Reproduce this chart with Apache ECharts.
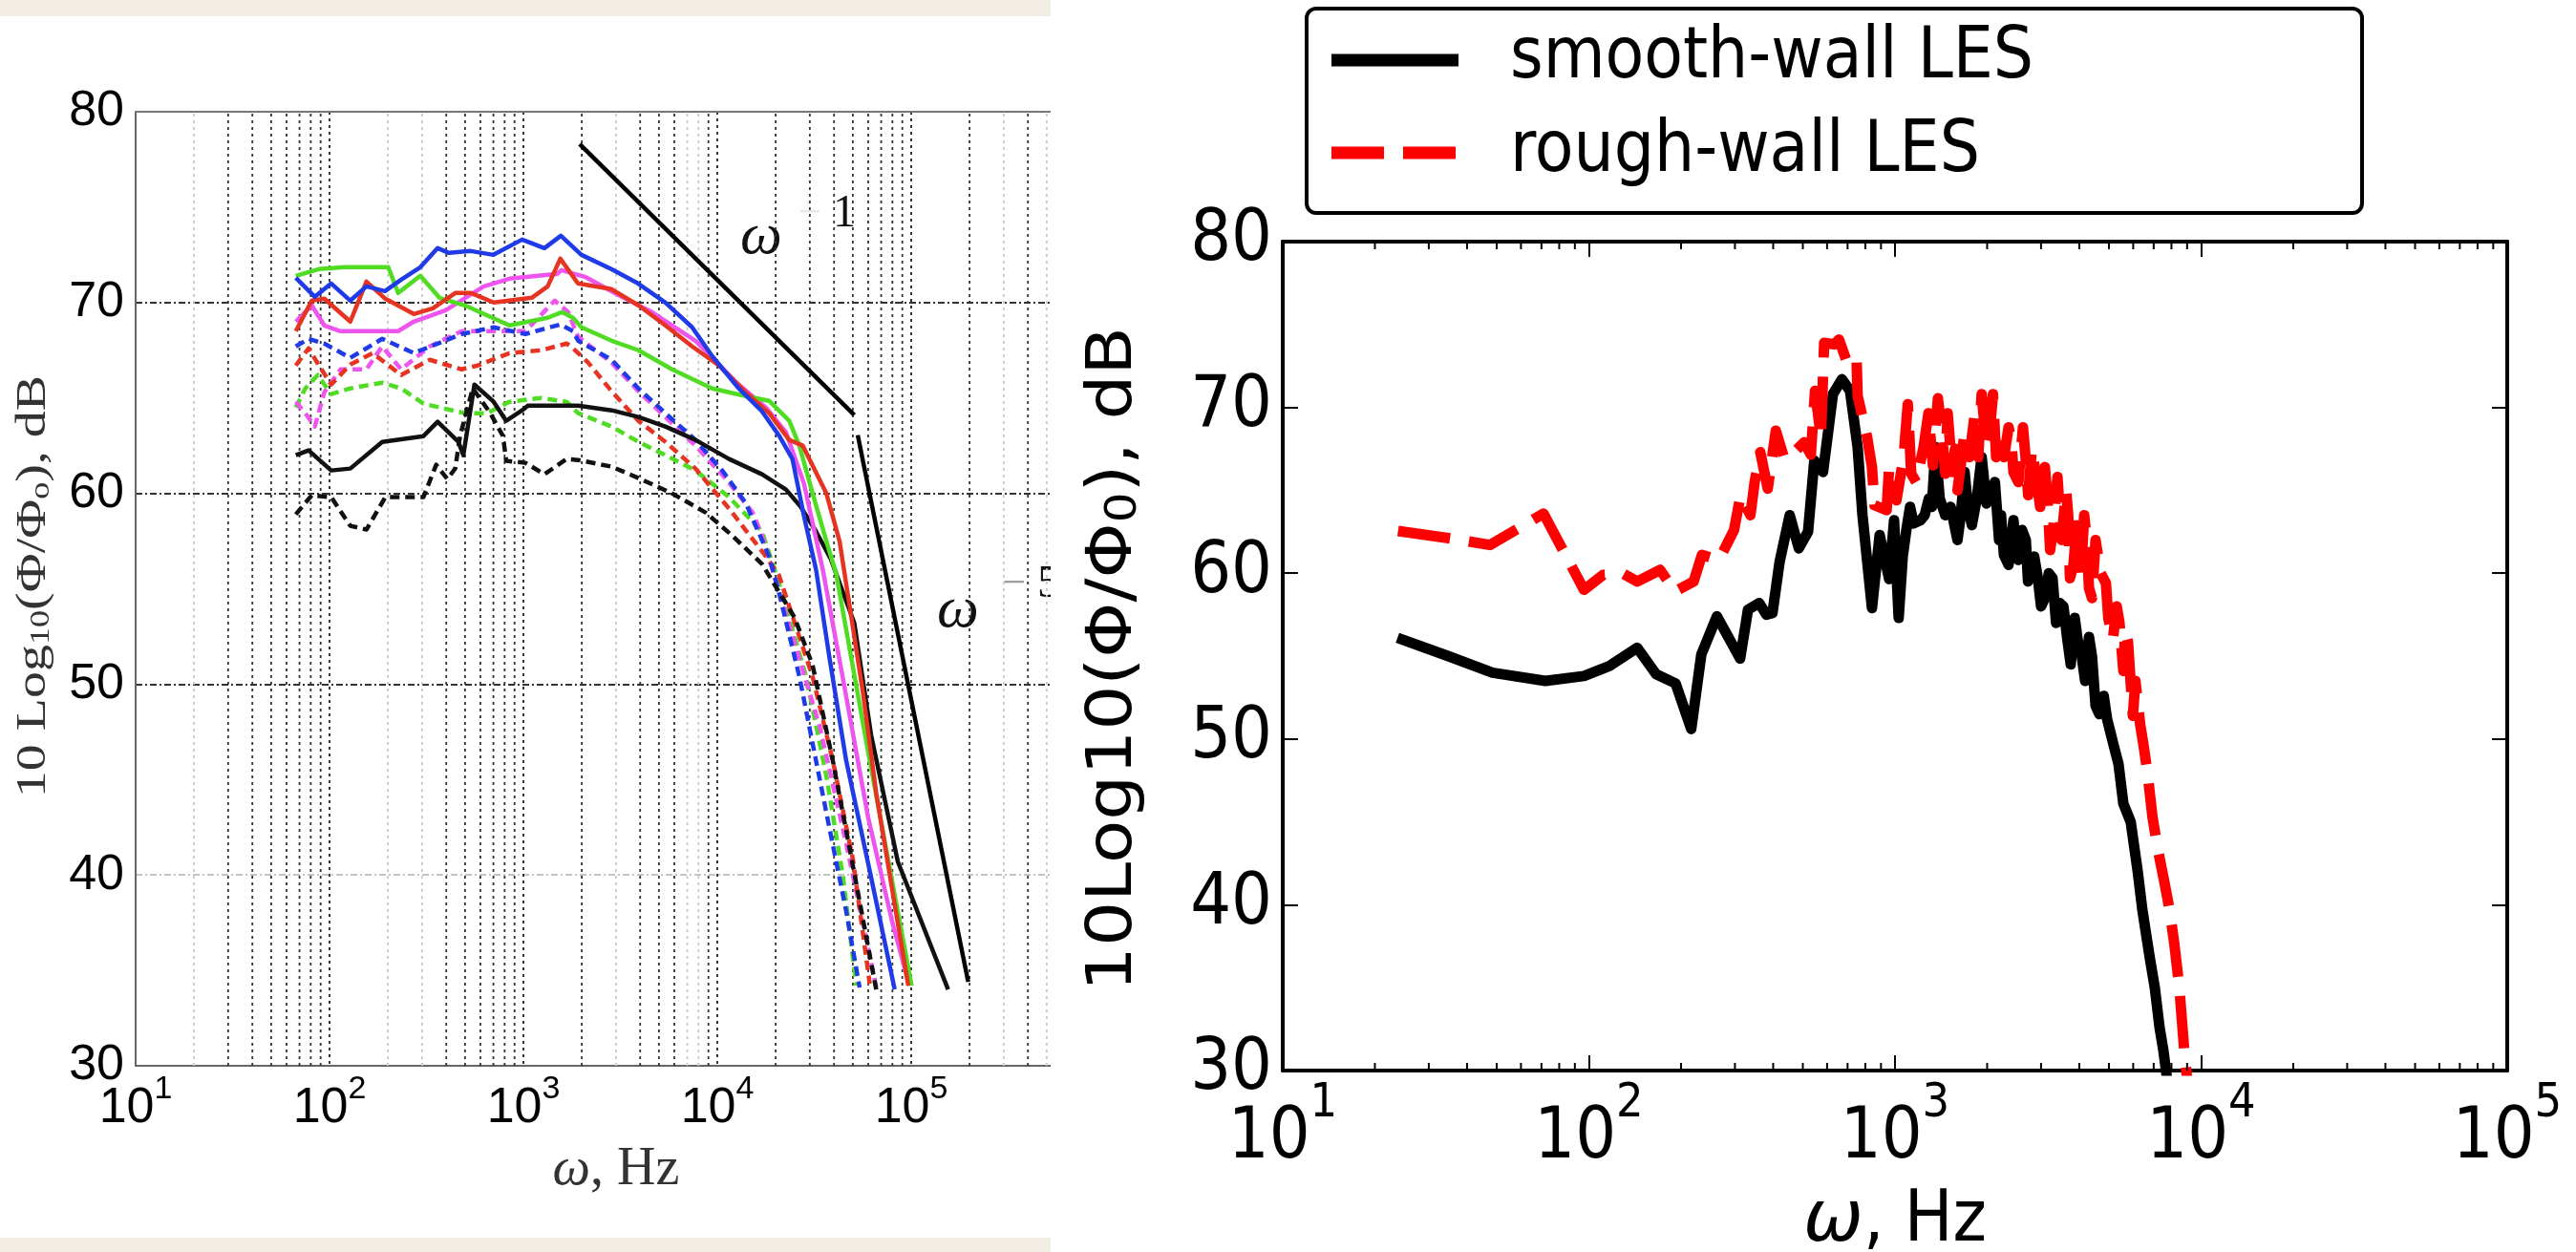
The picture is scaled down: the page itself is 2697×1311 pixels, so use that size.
<!DOCTYPE html>
<html><head><meta charset="utf-8">
<script src="https://cdn.jsdelivr.net/npm/echarts@6/dist/echarts.min.js"></script>
<style>
html,body{margin:0;padding:0;background:#fff;overflow:hidden;}
#left{position:absolute;left:0;top:0;width:1100px;height:1311px;background:linear-gradient(to bottom,#f3eee3 0,#f3eee3 17px,#fff 17px,#fff 1296px,#f3eee3 1296px);}
#right{position:absolute;left:1100px;top:0;width:1597px;height:1311px;background:#fff;}
</style></head><body>
<div id="left"></div><div id="right"></div>
<script>
// ---------------- LEFT PANEL DATA (frequency Hz, level dB) ----------------
const blueSolidF = [67,84,102,128,155,193,234,294,361,413,536,700,985,1283,1560,1992,2840,3900,5400,7420,9400,12900,17000,20900,24400,28000,32300,38000,46200,60000,82200];
const blueSolidDb = [71.3,70.3,71.0,70.1,70.85,70.6,71.2,71.85,72.85,72.6,72.7,72.5,73.3,72.85,73.5,72.5,71.75,71.0,70.0,68.7,67.2,65.5,64.3,63.0,61.8,58.8,56.0,51.3,46.0,40.6,34.0];
const redSolidF = [67,81,94,128,155,194,272,341,445,538,702,1104,1334,1550,1910,2850,3920,5400,7420,10200,14000,18500,23500,27600,36500,42700,46300,56400,66000,80500,96600];
const redSolidDb = [68.5,70.1,70.2,69.0,71.1,70.2,69.4,69.7,70.5,70.5,70.0,70.25,70.85,72.3,71.0,70.7,69.85,68.8,67.7,66.7,65.3,64.2,62.8,62.5,60.0,57.5,55.2,49.55,44.3,39.0,34.2];
const magSolidF = [67,81,94,114,187,226,272,397,625,847,1493,1570,2075,3215,4600,7710,12900,17800,22600,28000,35000,45000,60000,80000,98000];
const magSolidDb = [69.0,69.85,68.8,68.5,68.5,68.5,69.0,69.6,70.85,71.25,71.5,71.7,71.35,70.3,69.5,68.0,65.7,64.5,63.2,60.5,56.0,50.0,43.0,37.5,34.2];
const greenSolidF = [67,88,119,201,226,294,369,499,847,1334,1580,1800,1995,2850,3920,5840,9400,14000,18500,23500,26500,31000,36500,41000,61100,100500];
const greenSolidDb = [71.4,71.75,71.85,71.85,70.5,71.4,70.25,69.85,68.8,69.2,69.5,69.2,68.7,68.0,67.5,66.5,65.5,65.1,64.85,63.8,62.5,60.0,57.5,55.8,46.0,34.2];
const blackSolidF = [67,78,102,128,187,305,361,462,490,559,702,815,985,1055,1915,2850,3920,5390,7710,11500,17000,22600,26900,32300,38500,50900,62100,85300,155000];
const blackSolidDb = [62.0,62.25,61.2,61.3,62.7,63.0,63.75,62.7,62.0,65.7,64.8,63.8,64.35,64.6,64.6,64.35,64.0,63.5,62.8,61.8,61.0,60.2,59.3,58.0,56.55,53.2,47.35,40.7,34.0];
const blueDashF = [67,78,94,128,187,272,480,702,1023,1550,1805,1915,2850,3920,5400,7710,10600,14000,18500,20800,26500,31000,37800,46200,54200];
const blueDashDb = [67.7,68.1,67.85,67.1,68.1,67.35,68.35,68.7,68.35,68.85,68.5,68.0,67.0,65.5,64.2,62.8,61.2,59.5,56.7,54.8,50.4,46.9,42.5,38.1,34.1];
const redDashF = [67,78,87,102,128,167,234,329,480,581,847,1236,1670,1762,2158,2850,3920,5400,7710,11500,17800,20800,31000,39400,50100,61100];
const redDashDb = [66.7,67.6,66.8,65.7,66.75,67.35,66.2,67.0,66.5,66.7,67.35,67.5,67.85,67.7,66.85,65.35,63.8,62.7,61.3,59.2,56.7,55.7,50.4,46.0,40.8,34.3];
const magDashF = [67,75,84,94,114,155,187,234,329,480,702,1023,1450,1700,1915,2850,3920,5400,7710,11000,15200,17000,23500,33700,46200,66100];
const magDashDb = [64.8,64.2,63.5,65.3,66.5,66.5,67.7,66.5,67.7,68.5,68.5,68.5,70.1,69.5,68.2,66.85,65.35,64.0,62.5,60.8,59.0,57.8,53.1,47.8,41.65,34.1];
const greenDashF = [67,75,87,102,128,187,234,305,499,650,847,1236,1670,1915,2850,3920,5400,7710,11500,17000,20800,28700,36500,44500,52100];
const greenDashDb = [64.5,65.5,66.2,65.2,65.5,65.8,65.5,64.7,64.2,64.2,64.8,65.0,64.8,64.2,63.5,62.7,62.0,61.2,59.8,58.0,55.3,50.4,45.2,39.9,34.2];
const blackDashF = [67,81,102,128,155,194,305,355,405,445,471,548,675,785,815,1023,1283,1670,1915,2850,3920,5840,8690,11900,17000,25000,31000,39400,50000,66000];
const blackDashDb = [58.9,59.9,59.8,58.3,58.1,59.8,59.8,61.5,60.75,61.3,63.0,65.5,64.2,63.0,61.7,61.6,61.0,61.8,61.75,61.4,60.8,60.0,59.0,57.8,56.3,53.5,51.0,46.0,40.5,34.0];
const slope1F = [1950, 50900];
const slope1Db = [78.3, 64.1];
const slope5F = [53000, 196800];
const slope5Db = [63.05, 34.4];

// ---------------- RIGHT PANEL DATA ----------------
const smoothF = [23.7,34.7,48.4,72.1,96.4,116.7,143.8,166,192,216,233,262,312,331,360,380,398,420,453,485,520,545,582,627,671,713,755,783,841,891,957,993,1028,1060,1089,1120,1150,1213,1250,1290,1320,1356,1400,1459,1520,1600,1640,1688,1730,1783,1850,1919,1990,2061,2120,2188,2220,2269,2350,2438,2480,2529,2600,2675,2720,2774,2850,2929,3000,3088,3180,3270,3360,3456,3550,3648,3750,3864,3950,4077,4180,4303,4400,4521,4650,4806,4930,5071,5200,5371,5572,5888,6209,6427,6810,7058,7316,7531,7742];
const smoothDb = [56.1,55.0,54.0,53.5,53.8,54.4,55.5,53.9,53.35,50.6,55.1,57.4,54.85,57.8,58.2,57.5,57.6,60.7,63.5,61.5,62.5,66.8,66.1,70.8,71.7,71.0,67.6,63.5,57.9,62.3,59.65,63.2,57.3,61.0,62.6,64.0,63.0,63.2,63.5,64.5,64.0,67.6,64.5,63.5,64.0,62.0,63.5,66.1,64.0,62.9,64.5,67.0,64.2,65.0,65.5,62.0,63.5,61.1,60.5,63.2,61.5,60.8,62.6,62.0,59.5,60.0,61.0,59.7,58.0,58.5,60.0,59.7,57.0,58.2,58.0,56.15,54.5,57.3,56.0,54.95,53.5,56.15,55.0,52.0,51.5,52.6,51.2,50.3,49.5,48.5,46.1,45.0,42.0,39.7,36.7,35.0,32.6,31.2,29.5];
const roughF = [23.8,35.2,47.5,71.1,96.4,111.4,130,144,171,191,220,234,266,298,313,337,348,363,384,408,435,460,505,531,548,573,587,633,656,701,749,755,811,841,857,939,957,1011,1067,1101,1130,1172,1240,1286,1330,1381,1432,1460,1486,1539,1570,1600,1640,1688,1750,1815,1870,1919,1991,2040,2089,2140,2188,2270,2350,2400,2438,2530,2618,2670,2723,2800,2876,2980,3088,3150,3212,3300,3395,3500,3622,3680,3728,3830,3931,4050,4150,4230,4303,4400,4521,4700,4887,4975,5150,5300,5412,5572,5650,5770,5984,6100,6327,6500,6686,6936,7193,7580,7887,8180,8490,8810,9000];
const roughDb = [62.55,62.1,61.7,63.6,59.0,59.9,59.95,59.5,60.2,58.9,59.5,61.1,60.8,62.6,64.7,63.5,65.5,67.3,65.1,68.6,66.9,67.15,67.9,67.15,71.0,68.2,73.9,73.8,74.1,72.6,72.9,70.7,68.2,66.4,64.1,63.8,66.4,64.4,67.0,70.2,66.0,65.5,67.6,69.65,66.5,70.55,67.9,66.0,69.65,66.1,67.5,65.0,66.5,68.5,67.0,69.35,67.0,70.8,67.6,68.5,70.8,67.0,68.5,67.0,68.8,68.0,66.1,65.5,68.8,67.0,64.7,67.5,66.1,64.0,66.4,64.5,61.4,63.0,65.8,62.0,65.0,63.5,59.7,60.5,63.2,60.0,63.5,62.0,59.1,58.5,62.0,60.0,59.4,57.3,56.0,58.0,57.0,54.1,56.5,55.85,51.4,53.5,50.85,49.5,47.9,45.3,43.5,41.4,39.7,37.6,35.0,31.2,29.5];

// tick value arrays
const minorMult = [2,3,4,5,6,7,8,9];
const leftDecades = [10,100,1000,10000,100000];
const rightDecades = [10,100,1000,10000];
const leftLightMinor = [20,200,300,3000,7000,8000,300000,500000];

function pairs(f,d){return f.map((x,i)=>[x,d[i]]);}
function hasFont(name){const c=document.createElement('canvas').getContext('2d');const s='smooth-wall LES 0123456789';c.font='72px monospace';const a=c.measureText(s).width;c.font='72px "'+name+'", monospace';return c.measureText(s).width!==a;}
const COND = hasFont('DejaVu Sans Condensed');
const RF = COND ? 'DejaVu Sans Condensed' : 'DejaVu Sans';
const tickSize = COND ? 75 : 68;
const hScale = COND ? 1 : 0.88;

// ================= LEFT CHART =================
const left = echarts.init(document.getElementById('left'), null, {renderer:'canvas'});
const leftMinor = leftDecades.flatMap(d=>minorMult.map(m=>m*d));
function lLine(name,f,d,color,dashed){
  return {name, type:'line', xAxisIndex:0, yAxisIndex:0, data:pairs(f,d), showSymbol:false, symbol:'none', z: dashed?3:4,
    lineStyle:{color, width:4.5, type: dashed?[10,6]:'solid', join:'round'}};
}
const logLabel = (base, sup, pad) => ({
  formatter: v => '{b|10}{s|' + Math.round(Math.log10(v)) + '}',
  rich: { b:{fontSize:base.size, fontFamily:base.family, color:base.color, verticalAlign:'bottom', padding:[pad,0,0,0]},
          s:{fontSize:sup, fontFamily:base.family, color:base.color, verticalAlign:'top'} }
});
left.setOption({
  animation:false,
  grid:{left:142, top:117, width:1015, height:999, containLabel:false, outerBoundsMode:'none'},
  xAxis:[
    {type:'log', logBase:10, min:10, max:1e6, position:'bottom',
     axisLine:{show:true, lineStyle:{color:'#666', width:2}}, axisTick:{show:false},
     splitLine:{show:true, lineStyle:{color:'#222', width:1.8, type:[3,4]}},
     axisLabel:Object.assign({margin:8}, logLabel({size:52, family:'Liberation Sans', color:'#000'}, 34, 11))},
    {type:'log', logBase:10, min:10, max:1e6, position:'top',
     axisLine:{show:true, lineStyle:{color:'#777', width:2}}, axisTick:{show:false}, axisLabel:{show:false}, splitLine:{show:false}}
  ],
  yAxis:[{type:'value', min:30, max:80, interval:10,
     axisLine:{show:true, lineStyle:{color:'#666', width:2}}, axisTick:{show:false},
     axisLabel:{fontSize:52, fontFamily:'Liberation Sans', color:'#000', margin:12},
     splitLine:{show:true, lineStyle:{color:['#333','#c4c4c4','#333','#333','#333','#777'], width:1.8, type:[7,3,2,3]}}}],
  series:[
    {type:'custom', xAxisIndex:0, yAxisIndex:0, silent:true, z:1, data:leftMinor.map(v=>[v,30]),
     renderItem:(p,api)=>{const v=api.value(0);const a=api.coord([v,30]);const b=api.coord([v,80]);
       return {type:'line', shape:{x1:a[0],y1:a[1],x2:b[0],y2:b[1]},
         style:{stroke: leftLightMinor.includes(v)?'#c8c8c8':'#333', lineWidth:1.8, lineDash:[3,4]}};}},
    lLine('green dashed', greenDashF, greenDashDb, '#4fdc22', true),
    lLine('magenta dashed', magDashF, magDashDb, '#ee55ee', true),
    lLine('red dashed', redDashF, redDashDb, '#e63322', true),
    lLine('blue dashed', blueDashF, blueDashDb, '#1f3be8', true),
    lLine('black dashed', blackDashF, blackDashDb, '#111', true),
    lLine('black solid', blackSolidF, blackSolidDb, '#111', false),
    lLine('magenta solid', magSolidF, magSolidDb, '#ee55ee', false),
    lLine('green solid', greenSolidF, greenSolidDb, '#4fdc22', false),
    lLine('red solid', redSolidF, redSolidDb, '#e63322', false),
    lLine('blue solid', blueSolidF, blueSolidDb, '#1f3be8', false),
    lLine('slope -1', slope1F, slope1Db, '#000', false),
    lLine('slope -5', slope5F, slope5Db, '#000', false)
  ],
  graphic:[
    {type:'text', x:35, y:614, rotation:Math.PI/2, scaleY:0.8, silent:true,
     style:{text:'10 Log{s|10}(Φ/Φ{s|o}), dB', fontSize:56, fontFamily:'Liberation Serif', fill:'#333', align:'center', verticalAlign:'middle',
       rich:{s:{fontSize:36, fontFamily:'Liberation Serif', fill:'#333', verticalAlign:'bottom'}}}},
    {type:'text', x:645, y:1225, silent:true,
     style:{text:'{i|ω}, Hz', fontSize:56, fontFamily:'Liberation Serif', fill:'#333', align:'center', verticalAlign:'middle',
       rich:{i:{fontSize:56, fontFamily:'Liberation Serif', fontStyle:'italic', fill:'#333'}}}},
    {type:'text', x:797, y:249, silent:true, style:{text:'ω', fontSize:62, fontStyle:'italic', fontFamily:'Liberation Serif', fill:'#111', align:'center', verticalAlign:'middle'}},
    {type:'text', x:848, y:224, silent:true, style:{text:'−', fontSize:44, fontFamily:'Liberation Serif', fill:'#e6e6e6', align:'center', verticalAlign:'middle'}},
    {type:'text', x:884, y:224, silent:true, style:{text:'1', fontSize:48, fontFamily:'Liberation Serif', fill:'#111', align:'center', verticalAlign:'middle'}},
    {type:'text', x:1003, y:640, silent:true, style:{text:'ω', fontSize:62, fontStyle:'italic', fontFamily:'Liberation Serif', fill:'#111', align:'center', verticalAlign:'middle'}},
    {type:'text', x:1062, y:612, silent:true, style:{text:'−', fontSize:44, fontFamily:'Liberation Serif', fill:'#999', align:'center', verticalAlign:'middle'}},
    {type:'text', x:1098, y:612, silent:true, style:{text:'5', fontSize:48, fontFamily:'Liberation Serif', fill:'#111', align:'center', verticalAlign:'middle'}}
  ]
});

// ================= RIGHT CHART =================
const right = echarts.init(document.getElementById('right'), null, {renderer:'canvas'});
const rightMinor = rightDecades.flatMap(d=>minorMult.map(m=>m*d));
const tickBase = {size:tickSize, family:RF, color:'#000'};
const frameLine = {show:true, lineStyle:{color:'#000', width:4}};
const majorTick = {show:true, inside:true, length:16, lineStyle:{color:'#000', width:2}};
right.setOption({
  animation:false,
  grid:{left:243, top:253, width:1282, height:868, containLabel:false, outerBoundsMode:'none'},
  xAxis:[
    {type:'log', logBase:10, min:10, max:1e5, position:'bottom', axisLine:frameLine, axisTick:majorTick, splitLine:{show:false},
     axisLabel:Object.assign({margin:10}, logLabel(tickBase, 50, 24))},
    {type:'log', logBase:10, min:10, max:1e5, position:'top', axisLine:frameLine, axisTick:majorTick, splitLine:{show:false}, axisLabel:{show:false}}
  ],
  yAxis:[
    {type:'value', min:30, max:80, interval:10, position:'left', axisLine:frameLine, axisTick:majorTick, splitLine:{show:false},
     axisLabel:{fontSize:tickSize, fontFamily:RF, color:'#000', margin:11}},
    {type:'value', min:30, max:80, interval:10, position:'right', axisLine:frameLine, axisTick:majorTick, splitLine:{show:false}, axisLabel:{show:false}}
  ],
  series:[
    {type:'custom', xAxisIndex:0, yAxisIndex:0, silent:true, z:5, data:rightMinor.map(v=>[v,30]),
     renderItem:(p,api)=>{const v=api.value(0);const a=api.coord([v,30]);const b=api.coord([v,80]);
       return {type:'group', children:[
         {type:'line', shape:{x1:a[0],y1:a[1],x2:a[0],y2:a[1]-8}, style:{stroke:'#000', lineWidth:2}},
         {type:'line', shape:{x1:b[0],y1:b[1],x2:b[0],y2:b[1]+8}, style:{stroke:'#000', lineWidth:2}}]};}},
    {name:'smooth-wall LES', type:'line', data:pairs(smoothF, smoothDb), showSymbol:false, symbol:'none', z:3,
     lineStyle:{color:'#000', width:11, join:'round'}},
    {name:'rough-wall LES', type:'line', data:pairs(roughF, roughDb), showSymbol:false, symbol:'none', z:4,
     lineStyle:{color:'#ff0000', width:11, type:[55,20], join:'round'}}
  ],
  graphic:[
    {type:'rect', silent:true, shape:{x:268, y:9, width:1105, height:214, r:10}, style:{fill:'#fff', stroke:'#000', lineWidth:4}},
    {type:'line', silent:true, shape:{x1:294, y1:63, x2:427, y2:63}, style:{stroke:'#000', lineWidth:13}},
    {type:'line', silent:true, shape:{x1:294, y1:160, x2:424, y2:160}, style:{stroke:'#ff0000', lineWidth:13, lineDash:[55,20]}},
    {type:'text', silent:true, x:481, y:62, scaleX:hScale, style:{text:'smooth-wall LES', fontSize:74, fontFamily:RF, fill:'#000', align:'left', verticalAlign:'middle'}},
    {type:'text', silent:true, x:481, y:160, scaleX:hScale, style:{text:'rough-wall LES', fontSize:74, fontFamily:RF, fill:'#000', align:'left', verticalAlign:'middle'}},
    {type:'text', silent:true, x:67, y:690, rotation:Math.PI/2, scaleY:0.88,
     style:{text:'10Log10(Φ/Φ{s|0}), dB', fontSize:74, fontFamily:'DejaVu Sans', fill:'#000', align:'center', verticalAlign:'middle',
       rich:{s:{fontSize:50, fontFamily:'DejaVu Sans', fill:'#000', verticalAlign:'bottom'}}}},
    {type:'text', silent:true, x:884, y:1280, scaleX:hScale,
     style:{text:'{i|ω}, Hz', fontSize:75, fontFamily:RF, fill:'#000', align:'center', verticalAlign:'middle',
       rich:{i:{fontSize:75, fontFamily:'DejaVu Sans', fontStyle:'italic', fill:'#000'}}}}
  ]
});
</script>
</body></html>
